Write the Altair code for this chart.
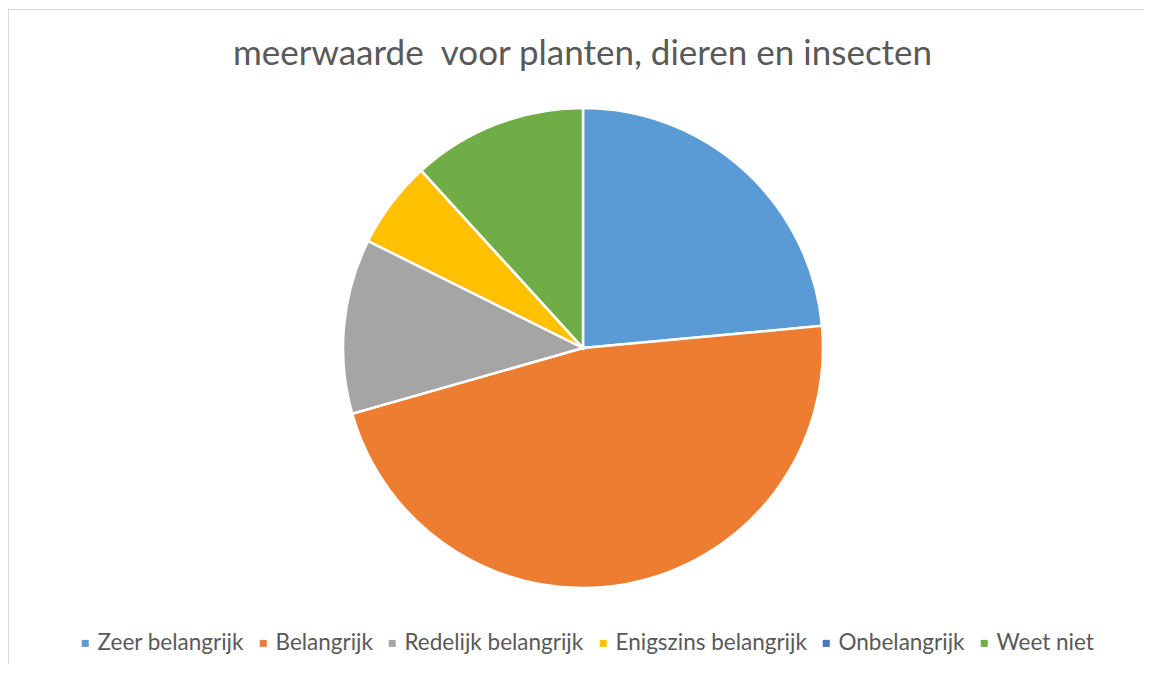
import altair as alt
import pandas as pd

categories = ["Zeer belangrijk", "Belangrijk", "Redelijk belangrijk",
              "Enigszins belangrijk", "Onbelangrijk", "Weet niet"]
values = [4, 8, 2, 1, 0, 2]
colors = ["#5B9BD5", "#ED7D31", "#A5A5A5", "#FFC000", "#4472C4", "#70AD47"]
title_text = "meerwaarde\u00a0 voor planten, dieren en insecten"

df = pd.DataFrame({"categorie": categories, "aantal": values,
                   "volgorde": list(range(len(categories)))})
one = pd.DataFrame({"t": [title_text]})

W, H = 1136, 656
FONT = "Lato"
GREY = "#595959"

pie = alt.Chart(df).mark_arc(radius=240, stroke="white", strokeWidth=2.5).encode(
    theta=alt.Theta("aantal:Q", stack=True),
    order=alt.Order("volgorde:Q"),
    color=alt.Color(
        "categorie:N",
        scale=alt.Scale(domain=categories, range=colors),
        legend=alt.Legend(
            orient="none", legendX=66, legendY=624, direction="horizontal",
            columns=6, title=None, symbolType="square", symbolSize=49,
            symbolStrokeWidth=0, labelFont=FONT, labelFontSize=22.5,
            labelColor=GREY, labelOffset=1, columnPadding=8, labelLimit=400,
            padding=0,
        ),
    ),
    x=alt.value(575),
    y=alt.value(340),
)

title = alt.Chart(one).mark_text(
    font=FONT, fontSize=35, color=GREY, align="center", baseline="alphabetic"
).encode(text="t:N", x=alt.value(574.5), y=alt.value(56.5))

top_rule = alt.Chart(one).mark_rule(color="#D9D9D9", strokeWidth=1).encode(
    x=alt.value(0), x2=alt.value(W), y=alt.value(1.5))
left_rule = alt.Chart(one).mark_rule(color="#D9D9D9", strokeWidth=1).encode(
    x=alt.value(0.5), y=alt.value(1), y2=alt.value(H))

chart = alt.layer(top_rule, left_rule, pie, title).properties(
    width=W, height=H, autosize=alt.AutoSizeParams(type="none"), padding=0
).configure_view(stroke=None)

chart.save("out.html", embed_options={"renderer": "svg", "actions": False})
